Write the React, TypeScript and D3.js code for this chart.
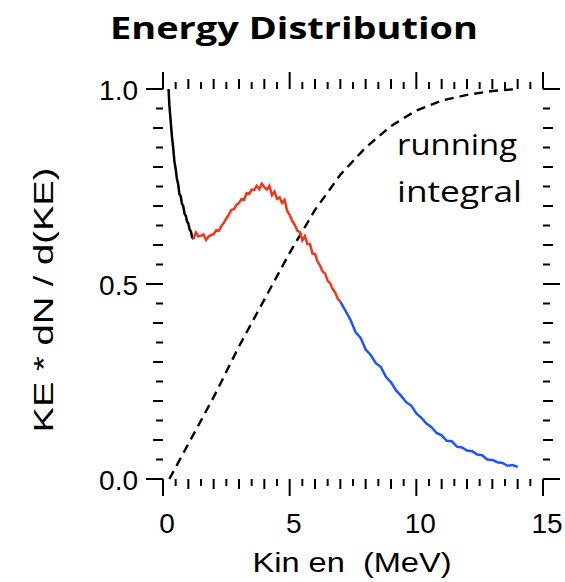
import React from 'react'
import * as d3 from 'd3'

// spectrum pieces, [E (MeV), KE*dN/dKE]
const lowPart: [number, number][] = [
  [0.22, 1.0], [0.25, 0.96], [0.3, 0.92], [0.35, 0.88], [0.4, 0.85], [0.45, 0.815],
  [0.5, 0.795], [0.55, 0.77], [0.6, 0.755], [0.65, 0.73], [0.7, 0.725], [0.75, 0.705],
  [0.8, 0.7], [0.85, 0.68], [0.9, 0.675], [0.95, 0.66], [1.0, 0.655], [1.05, 0.64],
  [1.1, 0.635], [1.15, 0.62], [1.2, 0.615]
]
const midPart: [number, number][] = [
  [1.2, 0.615], [1.3, 0.632], [1.4, 0.622], [1.5, 0.624], [1.6, 0.627], [1.7, 0.613],
  [1.8, 0.622], [1.9, 0.626], [2.0, 0.628], [2.1, 0.638], [2.2, 0.636], [2.3, 0.648],
  [2.4, 0.657], [2.5, 0.668], [2.6, 0.678], [2.7, 0.69], [2.8, 0.692], [2.9, 0.703],
  [3.0, 0.708], [3.1, 0.718], [3.2, 0.716], [3.3, 0.733], [3.4, 0.731], [3.5, 0.742],
  [3.6, 0.741], [3.7, 0.752], [3.8, 0.743], [3.9, 0.757], [4.0, 0.748], [4.1, 0.742],
  [4.2, 0.752], [4.3, 0.728], [4.4, 0.737], [4.5, 0.718], [4.6, 0.722], [4.7, 0.708],
  [4.8, 0.716], [4.9, 0.688], [5.0, 0.677], [5.1, 0.662], [5.2, 0.652], [5.3, 0.637],
  [5.4, 0.633], [5.5, 0.612], [5.6, 0.623], [5.7, 0.602], [5.8, 0.603], [5.9, 0.578],
  [6.0, 0.577], [6.1, 0.558], [6.2, 0.547], [6.3, 0.532], [6.4, 0.527], [6.5, 0.508],
  [6.6, 0.502], [6.7, 0.487], [6.8, 0.478], [6.9, 0.462], [7.0, 0.455]
]
const highPart: [number, number][] = [
  [7.0, 0.455], [7.2, 0.432], [7.4, 0.408], [7.6, 0.377], [7.8, 0.362], [8.0, 0.332],
  [8.2, 0.318], [8.4, 0.297], [8.6, 0.287], [8.8, 0.262], [9.0, 0.248], [9.2, 0.227],
  [9.4, 0.213], [9.6, 0.197], [9.8, 0.188], [10.0, 0.168], [10.2, 0.157], [10.4, 0.142],
  [10.6, 0.133], [10.8, 0.118], [11.0, 0.112], [11.2, 0.098], [11.4, 0.097], [11.6, 0.083],
  [11.8, 0.081], [12.0, 0.073], [12.2, 0.071], [12.4, 0.063], [12.6, 0.061], [12.8, 0.05],
  [13.0, 0.049], [13.2, 0.043], [13.4, 0.041], [13.6, 0.034], [13.8, 0.036], [14.0, 0.031]
]
const runningIntegral: [number, number][] = [
  [0.25, 0], [1, 0.09], [2, 0.21], [3, 0.34], [4, 0.46], [5, 0.58], [6, 0.69],
  [7, 0.78], [8, 0.85], [9, 0.905], [10, 0.945], [11, 0.97], [12, 0.985],
  [13, 0.995], [14, 1.0]
]

const xTickLabels = [0, 5, 10, 15]
const yTickLabels = [0, 0.5, 1.0]

const W = 565
const H = 582
const axisFont = "'Liberation Sans', Arial, sans-serif"
const textFont = "'Open Sans', Lato, sans-serif"

export default function App() {
  const x = d3.scaleLinear().domain([0, 15]).range([163, 543])
  const y = d3.scaleLinear().domain([0, 1]).range([479, 89])
  const line = d3
    .line<[number, number]>()
    .x(d => x(d[0]))
    .y(d => y(d[1]))

  // tick lengths: major / whole / half
  const xTicks = x.ticks(30)
  const xLen = (v: number) => (v % 5 === 0 ? 17 : Number.isInteger(v) ? 10 : 7)
  const yTicks = y.ticks(20)
  const yLen = (v: number) => {
    const r = Math.round(v * 100)
    return r % 50 === 0 ? 17 : r % 10 === 0 ? 10 : 7
  }

  const [x0, x1] = x.range()
  const [y0, y1] = y.range()

  return (
    <svg width={W} height={H} style={{position: 'absolute', left: 0, top: 0}}>
      <rect width={W} height={H} fill="#fff" />
      <text x={294} y={39} fontFamily={textFont} fontWeight="bold" fontSize={31}
        textAnchor="middle" textLength={368} lengthAdjust="spacingAndGlyphs">
        Energy Distribution
      </text>

      <g stroke="#000" strokeWidth={2}>
        {xTicks.map(v => (
          <g key={'x' + v}>
            <line x1={x(v)} x2={x(v)} y1={y0} y2={y0 + xLen(v)} />
            <line x1={x(v)} x2={x(v)} y1={y1} y2={y1 - xLen(v)} />
          </g>
        ))}
        {yTicks.map(v => (
          <g key={'y' + v}>
            <line x1={x0} x2={x0 - yLen(v)} y1={y(v)} y2={y(v)} />
            <line x1={x1} x2={x1 + yLen(v)} y1={y(v)} y2={y(v)} />
          </g>
        ))}
      </g>

      <g fontFamily={axisFont} fontSize={28} fill="#000">
        {xTickLabels.map(v => (
          <text key={v} x={x(v) + 4} y={533} textAnchor="middle">{v}</text>
        ))}
        {yTickLabels.map(v => (
          <text key={v} x={138} y={y(v) + 11} textAnchor="end">{v.toFixed(1)}</text>
        ))}
        <text x={352} y={572} textAnchor="middle" textLength={199} lengthAdjust="spacingAndGlyphs"
          style={{whiteSpace: 'pre'}}>
          {'Kin en  (MeV)'}
        </text>
        <text transform="translate(53,300) rotate(-90)" textAnchor="middle" fontSize={28}
          textLength={265} lengthAdjust="spacingAndGlyphs">
          KE * dN / d(KE)
        </text>
      </g>

      <path d={line(runningIntegral) ?? ''} fill="none" stroke="#000" strokeWidth={2.4}
        strokeDasharray="9,6" />
      <path d={line(lowPart) ?? ''} fill="none" stroke="#000" strokeWidth={2.5} />
      <path d={line(midPart) ?? ''} fill="none" stroke="#ee3a1c" strokeWidth={2.5} />
      <path d={line(highPart) ?? ''} fill="none" stroke="#1e56f5" strokeWidth={2.5} />

      <g fontFamily={textFont} fontSize={29} fill="#000">
        <text x={397} y={155} textLength={120} lengthAdjust="spacingAndGlyphs">running</text>
        <text x={397} y={202} textLength={125} lengthAdjust="spacingAndGlyphs">integral</text>
      </g>
    </svg>
  )
}
